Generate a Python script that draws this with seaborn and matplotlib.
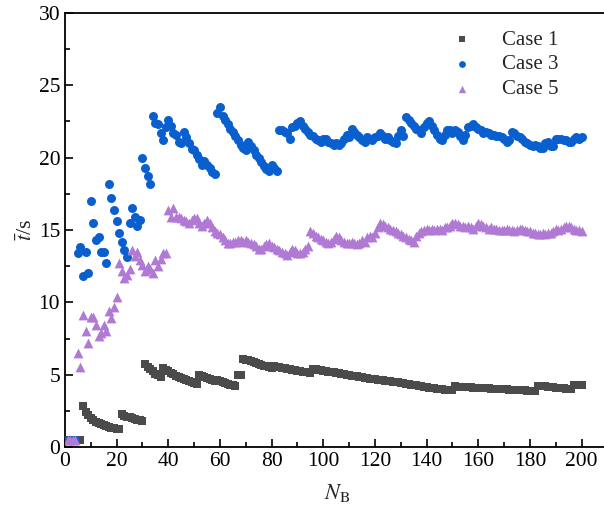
import numpy as np
import pandas as pd
import matplotlib
matplotlib.use("Agg")
import matplotlib.pyplot as plt
from matplotlib.ticker import MultipleLocator
import seaborn as sns

# Mean time t̄ (s) versus number of blocks N_B, one value per N_B = 1..200
case1 = [
    0.45, 0.45, 0.45, 0.45, 0.45, 0.45,
    2.85, 2.45, 2.2, 2.0, 1.85, 1.75, 1.65, 1.57, 1.5, 1.44, 1.39, 1.34, 1.29, 1.25, 1.21,
    2.25, 2.17, 2.1, 2.04, 1.98, 1.93, 1.88, 1.84, 1.8,
    5.75, 5.55, 5.38, 5.22, 5.08, 4.95, 4.85,
    5.45, 5.33, 5.22, 5.12, 5.02, 4.93, 4.84, 4.76, 4.68, 4.6, 4.53, 4.46, 4.4, 4.34,
    4.95, 4.88, 4.82, 4.76, 4.7, 4.64, 4.58, 4.62, 4.56, 4.5, 4.44, 4.38, 4.32, 4.26, 4.2,
    4.95, 4.95,
    6.1, 6.04, 5.98, 5.92, 5.86, 5.8, 5.74, 5.68, 5.62, 5.57, 5.52, 5.47,
    5.6, 5.56, 5.52, 5.48, 5.44, 5.4, 5.36, 5.33, 5.3, 5.27, 5.24, 5.21, 5.18, 5.15, 5.12,
    5.4, 5.36, 5.33, 5.3, 5.27, 5.24, 5.21, 5.18, 5.15, 5.12, 5.09, 5.06, 5.03,
    5.0, 4.97, 4.94, 4.91, 4.88, 4.85, 4.82, 4.79, 4.76, 4.73, 4.7, 4.67, 4.64, 4.62, 4.6, 4.58,
    4.56, 4.54, 4.52, 4.5, 4.47, 4.44, 4.41, 4.38, 4.35, 4.32, 4.29, 4.26, 4.23, 4.2, 4.17,
    4.14, 4.11, 4.08, 4.05, 4.03, 4.01, 3.99, 3.97, 3.95, 3.94, 3.93,
    4.2, 4.18, 4.16, 4.15, 4.14, 4.13, 4.12, 4.11, 4.1, 4.09, 4.08, 4.07, 4.06, 4.05, 4.04,
    4.03, 4.02, 4.01, 4.0, 3.99, 3.98, 3.97, 3.96, 3.95, 3.94, 3.93, 3.92, 3.91, 3.9, 3.9,
    3.89, 3.88,
    4.25, 4.23, 4.21, 4.19, 4.17, 4.15, 4.13, 4.11, 4.09, 4.07, 4.05, 4.03, 4.01, 4.0,
    4.3, 4.3, 4.28, 4.27,
]

case3 = [
    0.45, 0.45, 0.45, 0.45,
    13.4, 13.8, 11.8, 13.5, 12.0, 17.0, 15.5, 14.3, 14.5, 13.5, 13.5, 12.7, 18.2, 17.2, 16.4,
    15.6, 14.8, 14.2, 13.6, 13.1, 15.5, 16.5, 15.9, 15.3, 15.7, 20.0, 19.3, 18.7, 18.2,
    22.9, 22.4, 22.3, 21.7, 21.2, 22.1, 22.6, 22.2, 21.7, 21.6, 21.1, 21.0, 21.8, 21.4, 21.0,
    20.6, 20.5, 20.2, 19.9, 19.5, 19.8, 19.5, 19.3, 19.0, 18.9,
    23.1, 23.5,
    22.9, 22.6, 22.3, 22.0, 21.8, 21.5, 21.2, 20.9, 20.7, 20.5, 21.1, 20.8, 20.5, 20.2, 20.0,
    19.7, 19.4, 19.2, 19.1, 19.5, 19.3, 19.1,
    21.9, 21.9, 21.8, 21.7, 21.3, 22.1, 22.2, 22.4, 22.5, 22.2, 22.0, 21.8, 21.6, 21.5, 21.3,
    21.2, 21.1, 21.3,
    21.3, 21.1, 21.0, 20.9, 21.0, 20.9, 21.0, 21.3, 21.6, 21.4,
    22.0, 21.8, 21.6, 21.4, 21.2, 21.1, 21.4, 21.3, 21.2, 21.4,
    21.5, 21.7, 21.5, 21.3, 21.4, 21.2, 21.1, 21.0, 21.5, 21.9,
    21.5, 22.8, 22.6, 22.4, 22.2, 22.0, 21.9, 21.7, 22.1, 22.4,
    22.5, 22.2, 21.9, 21.6, 21.3, 21.2, 21.6, 21.9, 21.9, 21.7,
    21.9, 21.8, 21.5, 21.2, 21.6, 22.1, 22.2, 22.3, 22.1, 22.0,
    21.9, 21.7, 21.8, 21.7, 21.6, 21.6, 21.5, 21.5, 21.4, 21.3,
    21.1, 21.2, 21.8, 21.7, 21.5, 21.4, 21.3, 21.1, 21.0, 20.9,
    20.8, 20.9, 20.8, 20.7, 20.7, 21.0, 21.1, 20.8, 20.8, 21.3,
    21.3, 21.3, 21.2, 21.2, 21.1, 21.1, 21.3, 21.4, 21.3, 21.4,
]

case5 = [
    0.5, 0.5, 0.5, 0.5,
    6.5, 5.5, 9.1, 8.0, 7.2, 9.0, 9.0, 8.4, 7.7, 7.9, 8.4, 8.0, 9.4, 8.9, 9.7, 10.4,
    12.7, 12.2, 11.7, 11.9, 12.3, 13.6, 13.2, 13.5, 12.9, 12.6, 12.2, 12.5, 12.3, 12.0, 12.9,
    12.5, 13.0, 13.4, 13.4,
    16.4, 15.9, 16.5, 15.9, 15.9, 15.8, 15.7, 15.6, 15.5, 15.7, 15.8, 15.8, 15.5, 15.3, 15.5,
    15.7, 15.5, 15.2, 14.9, 14.8, 14.7,
    14.5, 14.3, 14.1, 14.1, 14.2, 14.2, 14.3, 14.3, 14.2, 14.3,
    14.2, 14.1, 14.0, 13.9, 13.7, 13.7, 13.9, 14.0, 14.1, 13.9,
    13.8, 13.7, 13.6, 13.5, 13.4, 13.3, 13.5, 13.7, 13.6, 13.4,
    13.4, 13.5, 13.7, 13.9, 14.9,
    14.8, 14.6, 14.5, 14.4, 14.3, 14.2, 14.1, 14.2, 14.4, 14.6, 14.5, 14.3, 14.2, 14.1, 14.1,
    14.2, 14.1, 14.0, 14.1, 14.3, 14.2, 14.5, 14.6, 14.5, 14.8,
    15.2, 15.5, 15.4, 15.3, 15.2, 15.1, 15.0, 14.9, 14.8, 14.7,
    14.6, 14.5, 14.4, 14.3, 14.2, 14.6, 14.8, 14.9, 15.0, 15.1,
    15.0, 15.1, 15.0, 15.1, 15.1, 15.0, 15.2, 15.2, 15.3, 15.5,
    15.5, 15.4, 15.3, 15.3, 15.2, 15.3, 15.2, 15.1, 15.3, 15.5,
    15.4, 15.3, 15.2, 15.1, 15.2, 15.1, 15.1, 15.0, 15.0, 15.0,
    15.1, 15.0, 15.0, 14.9, 15.0, 15.1, 15.1, 15.0, 14.9, 14.9,
    14.8, 14.8, 14.7, 14.7, 14.8, 14.7, 14.8, 14.8, 14.9, 15.1,
    15.0, 15.1, 15.2, 15.3, 15.3, 15.2, 15.1, 15.0, 15.0, 14.9,
]

case_names = ["Case 1", "Case 3", "Case 5"]
colors = {"Case 1": "#4b4b4b", "Case 3": "#0a5fcf", "Case 5": "#b07ad4"}
markers = {"Case 1": "s", "Case 3": "o", "Case 5": "^"}
sizes = {"Case 1": 26, "Case 3": 42, "Case 5": 50}

frames = []
for name, vals in zip(case_names, [case1, case3, case5]):
    frames.append(pd.DataFrame({"N": np.arange(1, len(vals) + 1), "t": vals, "case": name}))
df = pd.concat(frames, ignore_index=True)

sns.set_theme(style="ticks")
plt.rcParams["font.family"] = ["Liberation Serif", "DejaVu Serif"]
plt.rcParams["mathtext.fontset"] = "stix"

fig = plt.figure(figsize=(6.04, 5.07), dpi=100)
ax = fig.add_axes([65 / 604, 60 / 507, 545 / 604, 434 / 507])

for name in case_names:
    sub = df[df["case"] == name]
    sns.scatterplot(data=sub, x="N", y="t", ax=ax, color=colors[name],
                    marker=markers[name], s=sizes[name], linewidth=0,
                    label=name, zorder=3)

ax.set_xlim(0, 211)
ax.set_ylim(0, 30)
ax.xaxis.set_major_locator(MultipleLocator(20))
ax.xaxis.set_minor_locator(MultipleLocator(10))
ax.yaxis.set_major_locator(MultipleLocator(5))
ax.yaxis.set_minor_locator(MultipleLocator(2.5))
ax.tick_params(which="both", direction="in", top=False, right=False,
               labelsize=15.5, colors="black", width=1.2)
ax.tick_params(which="major", length=6)
ax.tick_params(which="minor", length=3.5)
for side in ["left", "bottom", "top"]:
    ax.spines[side].set_linewidth(1.3)
    ax.spines[side].set_color("black")
ax.spines["right"].set_visible(False)

ax.set_xlabel(r"$N_\mathrm{B}$", fontsize=16, labelpad=8)
ax.set_ylabel(r"$\bar{t}$/s", fontsize=16, labelpad=1)

leg = ax.legend(loc="upper left", bbox_to_anchor=(0.675, 0.98), frameon=False,
                fontsize=15, handletextpad=0.9, labelspacing=0.25,
                markerscale=0.75, borderaxespad=0)

fig.savefig("out.png", dpi=100)
